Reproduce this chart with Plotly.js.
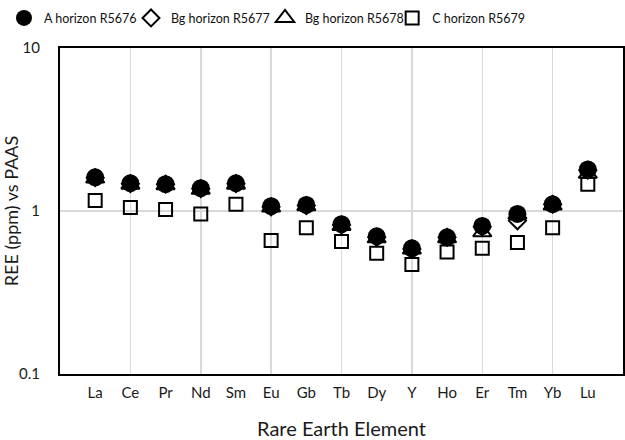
<!DOCTYPE html>
<html>
<head>
<meta charset="utf-8">
<script src="https://cdn.plot.ly/plotly-3.0.1.min.js"></script>
<style>html,body{margin:0;padding:0;background:#fff;}#chart{width:625px;height:440px;}</style>
</head>
<body>
<div id="chart"></div>
<script>
// Rare earth elements (x categories)
const elements = ["La","Ce","Pr","Nd","Sm","Eu","Gb","Tb","Dy","Y","Ho","Er","Tm","Yb","Lu"];
// REE normalised to PAAS
const aHorizonR5676  = [1.61,1.48,1.46,1.38,1.48,1.07,1.09,0.83,0.70,0.59,0.69,0.81,0.96,1.10,1.80];
const bgHorizonR5677 = [1.60,1.47,1.46,1.37,1.47,1.06,1.08,0.82,0.69,0.585,0.69,0.80,0.87,1.10,1.78];
const bgHorizonR5678 = [1.58,1.45,1.44,1.35,1.45,1.05,1.07,0.81,0.68,0.58,0.68,0.74,0.95,1.08,1.69];
const cHorizonR5679  = [1.16,1.05,1.02,0.96,1.10,0.66,0.79,0.65,0.55,0.47,0.56,0.59,0.64,0.79,1.46];
const seriesNames = ["A horizon R5676","Bg horizon R5677","Bg horizon R5678","C horizon R5679"];
const yTickVals = [0.1, 1, 10];
const yTickText = ["0.1", "1", "10"];

const xPos = elements.map((e, i) => i + 1);
const FONT = "Lato, 'Open Sans', sans-serif";

const traces = [
  {x: xPos, y: aHorizonR5676, name: seriesNames[0], type: "scatter", mode: "markers", legend: "legend",
   marker: {symbol: "circle", size: 18, color: "#000", line: {width: 0}}},
  {x: xPos, y: bgHorizonR5677, name: seriesNames[1], type: "scatter", mode: "markers", legend: "legend2",
   marker: {symbol: "diamond-open", size: 13, color: "#000", line: {width: 2, color: "#000"}}},
  {x: xPos, y: bgHorizonR5678, name: seriesNames[2], type: "scatter", mode: "markers", legend: "legend3",
   marker: {symbol: "triangle-up-open", size: 16, color: "#000", line: {width: 2, color: "#000"}}},
  {x: xPos, y: cHorizonR5679, name: seriesNames[3], type: "scatter", mode: "markers", legend: "legend4",
   marker: {symbol: "square-open", size: 13, color: "#000", line: {width: 2, color: "#000"}}}
];
// draw order: squares first, circles on top
const drawOrder = [traces[3], traces[2], traces[1], traces[0]];

function legendAt(x) {
  return {orientation: "h", x: x, xanchor: "left", y: 1.045, yanchor: "bottom",
          font: {family: FONT, size: 12.5, color: "#111"},
          itemsizing: "trace", bgcolor: "rgba(0,0,0,0)"};
}

const layout = {
  width: 625, height: 440,
  margin: {l: 60, r: 2, t: 48, b: 66},
  paper_bgcolor: "#fff", plot_bgcolor: "#fff",
  font: {family: FONT, color: "#1a1a1a", size: 14},
  showlegend: true,
  legend: legendAt(-0.0995),
  legend2: legendAt(0.1261),
  legend3: legendAt(0.3641),
  legend4: legendAt(0.590),
  xaxis: {
    range: [0, 16], tickmode: "array", tickvals: xPos, ticktext: elements,
    showgrid: false, zeroline: false, ticks: "",
    showline: true, mirror: true, linecolor: "#000", linewidth: 2,
    tickfont: {family: FONT, size: 15, color: "#1a1a1a"}, ticklabelstandoff: 4,
    minor: {tick0: 0, dtick: 2, showgrid: true, gridcolor: "#d9d9d9", gridwidth: 1.5, ticks: ""},
    title: {text: "Rare Earth Element", font: {family: FONT, size: 20, color: "#1a1a1a"}, standoff: 22}
  },
  yaxis: {
    type: "log", range: [-1, 1], tickmode: "array", tickvals: yTickVals, ticktext: yTickText,
    showgrid: true, gridcolor: "#d9d9d9", gridwidth: 1.5, zeroline: false, ticks: "",
    showline: true, mirror: true, linecolor: "#000", linewidth: 2,
    tickfont: {family: FONT, size: 15, color: "#1a1a1a"}, ticklabelstandoff: 15,
    title: {text: "REE (ppm) vs PAAS", font: {family: FONT, size: 18, color: "#1a1a1a"}, standoff: 4}
  }
};

Plotly.newPlot("chart", drawOrder, layout, {displayModeBar: false, staticPlot: true});
</script>
</body>
</html>
